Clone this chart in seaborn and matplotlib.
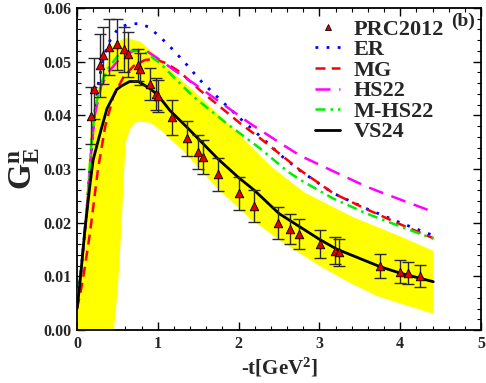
import numpy as np
import pandas as pd
import matplotlib
matplotlib.use("Agg")
import matplotlib.pyplot as plt
import seaborn as sns
from matplotlib.lines import Line2D

# ---------------- data ----------------
# PRC2012 data points
data_t = [0.17, 0.214, 0.28, 0.326, 0.396, 0.499, 0.582, 0.635, 0.751, 0.78,
          0.90, 0.974, 0.999, 1.17, 1.36, 1.50, 1.556, 1.75, 2.0, 2.195,
          2.49, 2.64, 2.75, 3.007, 3.197, 3.246, 3.75, 4.0, 4.10, 4.25]
data_g = [0.0399, 0.0450, 0.0493, 0.0512, 0.0528, 0.0532, 0.0523, 0.0514, 0.0494, 0.0486,
          0.0458, 0.0440, 0.0436, 0.0396, 0.0357, 0.0332, 0.0322, 0.0290, 0.0255, 0.0231,
          0.0200, 0.0188, 0.0179, 0.0160, 0.0148, 0.0145, 0.0119, 0.0109, 0.0106, 0.0101]
data_err = [0.0053, 0.0057, 0.0058, 0.0053, 0.0052, 0.0047, 0.0042, 0.0042, 0.0030, 0.0030,
            0.0030, 0.0030, 0.0030, 0.0032, 0.0032, 0.0032, 0.0032, 0.0031, 0.0031, 0.0030,
            0.0030, 0.0028, 0.0028, 0.0026, 0.0025, 0.0025, 0.0023, 0.0022, 0.0021, 0.0020]

# ER (blue dotted)
er_t = [0.0, 0.05, 0.12, 0.18, 0.2, 0.264, 0.33, 0.41, 0.51, 0.635, 0.76, 0.88, 1.03, 1.19,
        1.36, 1.52, 1.69, 2.02, 2.26, 2.55, 2.76, 3.17, 3.585, 4.0, 4.41]
er_g = [0.0045, 0.011, 0.022, 0.034, 0.038, 0.046, 0.051, 0.054, 0.0562, 0.0570, 0.0571, 0.0565,
        0.0546, 0.0522, 0.0494, 0.0466, 0.0441, 0.0394, 0.0362, 0.0322, 0.0297, 0.0255, 0.0226,
        0.0200, 0.0176]

# MG (red dashed)
mg_t = [0.0, 0.05, 0.1, 0.16, 0.26, 0.35, 0.45, 0.57, 0.7, 0.84, 0.95, 1.11, 1.27, 1.52,
        1.77, 2.02, 2.26, 2.76, 3.17, 3.585, 4.0, 4.41]
mg_g = [0.0040, 0.0075, 0.012, 0.018, 0.030, 0.038, 0.0435, 0.0470, 0.0492, 0.0503, 0.0505,
        0.0497, 0.0481, 0.0447, 0.0416, 0.0385, 0.0358, 0.0298, 0.0255, 0.0225, 0.0197, 0.0171]

# HS22 (magenta dashed)
hs_t = [0.0, 0.05, 0.12, 0.18, 0.22, 0.30, 0.39, 0.51, 0.68, 0.82, 1.03, 1.23, 1.44, 1.85,
        2.14, 2.55, 2.76, 3.17, 3.585, 3.79, 4.41]
hs_g = [0.0045, 0.011, 0.022, 0.034, 0.040, 0.0455, 0.0481, 0.0502, 0.0519, 0.0524, 0.0503,
        0.0481, 0.0460, 0.0416, 0.0385, 0.0345, 0.0325, 0.0296, 0.0267, 0.0255, 0.0220]

# M-HS22 (green dash-dot)
mhs_t = [0.0, 0.05, 0.12, 0.18, 0.22, 0.30, 0.39, 0.51, 0.70, 0.86, 1.03, 1.23, 1.44, 1.85,
         2.26, 2.61, 2.76, 3.17, 3.585, 4.0, 4.41]
mhs_g = [0.0045, 0.011, 0.022, 0.035, 0.041, 0.046, 0.0488, 0.0512, 0.0522, 0.0516, 0.0497,
         0.0466, 0.0435, 0.0385, 0.0339, 0.0295, 0.0280, 0.0245, 0.0217, 0.0193, 0.0170]

# VS24 (black solid)
vs_t = [0.0, 0.02, 0.05, 0.1, 0.16, 0.2, 0.285, 0.37, 0.49, 0.553, 0.65, 0.76, 0.9, 1.0,
        1.15, 1.36, 1.75, 2.0, 2.19, 2.5, 3.0, 3.21, 3.75, 4.0, 4.41]
vs_g = [0.004, 0.0065, 0.011, 0.019, 0.027, 0.0317, 0.0366, 0.0412, 0.0448, 0.0455, 0.0463,
        0.0463, 0.0450, 0.0438, 0.0409, 0.0378, 0.0318, 0.0284, 0.0261, 0.0217, 0.0169, 0.0151,
        0.0118, 0.0106, 0.0090]

# VS24 uncertainty band (yellow)
band_up_t = [0.0, 0.05, 0.09, 0.16, 0.22, 0.35, 0.43, 0.53, 0.61, 0.78, 0.86, 0.95, 1.1,
             1.32, 1.52, 1.73, 2.0, 2.4, 2.8, 3.4, 4.0, 4.41]
band_up_g = [0.003, 0.011, 0.0205, 0.037, 0.0432, 0.0494, 0.0530, 0.0541, 0.0545, 0.0538,
             0.0528, 0.0515, 0.0492, 0.0462, 0.0435, 0.0405, 0.0365, 0.0305, 0.0258, 0.0212,
             0.0175, 0.0148]
band_lo_t = [0.0, 0.45, 0.5, 0.55, 0.594, 0.65, 0.72, 0.78, 0.9, 1.03, 1.32, 1.73, 2.14,
             2.55, 3.0, 3.38, 3.71, 4.0, 4.41]
band_lo_g = [0.0, 0.0, 0.008, 0.021, 0.0348, 0.0375, 0.0388, 0.0389, 0.0387, 0.0373, 0.0333,
             0.0265, 0.0208, 0.0163, 0.0120, 0.0088, 0.0064, 0.0050, 0.0031]

x_ticks = [0, 1, 2, 3, 4, 5]
y_ticks = [0.00, 0.01, 0.02, 0.03, 0.04, 0.05, 0.06]

# ---------------- style ----------------
sns.set_theme(style="ticks")
plt.rcParams["font.family"] = ["Liberation Serif", "DejaVu Serif"]
plt.rcParams["font.weight"] = "bold"
plt.rcParams["mathtext.fontset"] = "custom"
plt.rcParams["mathtext.rm"] = "Liberation Serif:bold"
plt.rcParams["mathtext.bf"] = "Liberation Serif:bold"
plt.rcParams["mathtext.it"] = "Liberation Serif:bold"

fig = plt.figure(figsize=(4.86, 3.83), dpi=100)
ax = fig.add_axes([77 / 486, 1 - 330 / 383, (481 - 77) / 486, (330 - 8) / 383])

# band
tt = np.linspace(0.0, 4.41, 600)
up = np.interp(tt, band_up_t, band_up_g)
lo = np.interp(tt, band_lo_t, band_lo_g)
ax.fill_between(tt, lo, up, color="#ffff00", linewidth=0, zorder=1)

curves = [
    ("ER", er_t, er_g, "#0000ff", (0, (1, 3)), 2.0),
    ("MG", mg_t, mg_g, "#ff0000", (0, (4, 2.5)), 1.8),
    ("HS22", hs_t, hs_g, "#ff00ff", (0, (6, 3.5)), 1.8),
    ("M-HS22", mhs_t, mhs_g, "#00ee00", (0, (4, 2, 1, 2)), 1.8),
    ("VS24", vs_t, vs_g, "#000000", "-", 2.0),
]
for name, t, g, col, ls, lw in curves:
    df = pd.DataFrame({"t": t, "g": g})
    sns.lineplot(data=df, x="t", y="g", ax=ax, color=col, linestyle=ls,
                 linewidth=lw, zorder=3, sort=False)

# data with error bars
ax.errorbar(data_t, data_g, yerr=data_err, fmt="none", ecolor="#2a2a2a",
            elinewidth=1.0, capsize=4, capthick=1.0, zorder=4)
dfp = pd.DataFrame({"t": data_t, "g": data_g})
sns.scatterplot(data=dfp, x="t", y="g", ax=ax, marker="^", s=38, color="#e00000",
                edgecolor="#000000", linewidth=0.6, zorder=5)

ax.set_xlim(0, 5)
ax.set_ylim(0, 0.06)
ax.set_xticks(x_ticks)
ax.set_xticklabels([str(v) for v in x_ticks])
ax.set_yticks(y_ticks)
ax.set_yticklabels([f"{v:.2f}" for v in y_ticks])
ax.xaxis.set_minor_locator(matplotlib.ticker.MultipleLocator(0.2))
ax.yaxis.set_minor_locator(matplotlib.ticker.MultipleLocator(0.002))
ax.tick_params(which="both", direction="in", top=True, right=True, color="black")
ax.tick_params(which="major", length=6, width=1.0, labelsize=11.5, pad=4)
ax.tick_params(which="minor", length=3, width=0.8)
for lab in ax.get_xticklabels() + ax.get_yticklabels():
    lab.set_fontweight("bold")
for sp in ax.spines.values():
    sp.set_linewidth(1.3)
    sp.set_color("black")

ax.set_xlabel(r"-t[GeV$^{2}$]", fontsize=15, fontweight="bold", labelpad=3)
ax.set_ylabel(r"$\mathbf{G}_{\mathbf{E}}^{\mathbf{n}}$", fontsize=24, fontweight="bold", labelpad=1)

ax.text(0.985, 0.985, "(b)", transform=ax.transAxes, ha="right", va="top",
        fontsize=14, fontweight="bold")

handles = [Line2D([], [], linestyle="none", marker="^", markersize=5, color="#e00000",
                  markeredgecolor="black", markeredgewidth=0.6)]
for name, t, g, col, ls, lw in curves:
    handles.append(Line2D([], [], color=col, linestyle=ls, linewidth=lw))
labels = ["PRC2012"] + [c[0] for c in curves]
leg = ax.legend(handles, labels, loc="upper right", bbox_to_anchor=(0.935, 1.0),
                frameon=False, fontsize=16, handlelength=1.1, handletextpad=0.6,
                labelspacing=0.0, borderaxespad=0.1, prop={"weight": "bold", "size": 16})

fig.savefig("out.png", dpi=100)
